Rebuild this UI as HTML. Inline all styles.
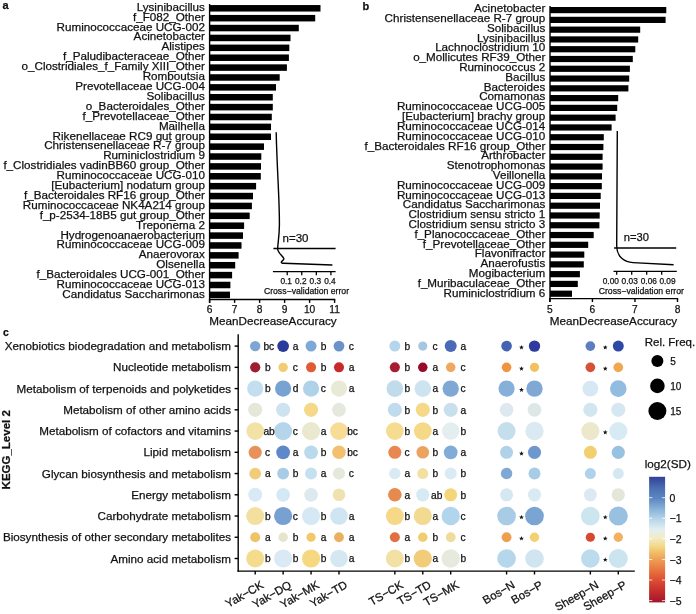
<!DOCTYPE html>
<html><head><meta charset="utf-8"><style>
html,body{margin:0;padding:0;background:#fff;}
body{width:696px;height:614px;overflow:hidden;}
svg{display:block;will-change:transform;}
text{font-family:"Liberation Sans",sans-serif;fill:#111;stroke:#111;stroke-width:0.25px;}
</style></head><body>
<svg width="696" height="614" viewBox="0 0 696 614">
<rect width="696" height="614" fill="#fff"/>
<text x="2.60" y="9.20" font-size="11" text-anchor="start" font-weight="bold" >a</text>
<rect x="209.60" y="5.05" width="110.90" height="6.5" fill="#000"/>
<text x="204.90" y="10.75" font-size="11.67" text-anchor="end" font-weight="normal" >Lysinibacillus</text>
<rect x="209.60" y="14.93" width="105.60" height="6.5" fill="#000"/>
<text x="204.90" y="20.66" font-size="11.67" text-anchor="end" font-weight="normal" >f_F082_Other</text>
<rect x="209.60" y="24.81" width="89.20" height="6.5" fill="#000"/>
<text x="204.90" y="30.56" font-size="11.67" text-anchor="end" font-weight="normal" >Ruminococcaceae UCG-002</text>
<rect x="209.60" y="34.70" width="80.90" height="6.5" fill="#000"/>
<text x="204.90" y="40.46" font-size="11.67" text-anchor="end" font-weight="normal" >Acinetobacter</text>
<rect x="209.60" y="44.58" width="79.70" height="6.5" fill="#000"/>
<text x="204.90" y="50.37" font-size="11.67" text-anchor="end" font-weight="normal" >Alistipes</text>
<rect x="209.60" y="54.46" width="79.30" height="6.5" fill="#000"/>
<text x="204.90" y="60.27" font-size="11.67" text-anchor="end" font-weight="normal" >f_Paludibacteraceae_Other</text>
<rect x="209.60" y="64.34" width="77.30" height="6.5" fill="#000"/>
<text x="204.90" y="70.18" font-size="11.67" text-anchor="end" font-weight="normal" >o_Clostridiales_f_Family XIII_Other</text>
<rect x="209.60" y="74.22" width="70.10" height="6.5" fill="#000"/>
<text x="204.90" y="80.08" font-size="11.67" text-anchor="end" font-weight="normal" >Romboutsia</text>
<rect x="209.60" y="84.11" width="66.40" height="6.5" fill="#000"/>
<text x="204.90" y="89.99" font-size="11.67" text-anchor="end" font-weight="normal" >Prevotellaceae UCG-004</text>
<rect x="209.60" y="93.99" width="63.20" height="6.5" fill="#000"/>
<text x="204.90" y="99.89" font-size="11.67" text-anchor="end" font-weight="normal" >Solibacillus</text>
<rect x="209.60" y="103.87" width="63.20" height="6.5" fill="#000"/>
<text x="204.90" y="109.80" font-size="11.67" text-anchor="end" font-weight="normal" >o_Bacteroidales_Other</text>
<rect x="209.60" y="113.75" width="62.20" height="6.5" fill="#000"/>
<text x="204.90" y="119.70" font-size="11.67" text-anchor="end" font-weight="normal" >f_Prevotellaceae_Other</text>
<rect x="209.60" y="123.63" width="61.40" height="6.5" fill="#000"/>
<text x="204.90" y="129.61" font-size="11.67" text-anchor="end" font-weight="normal" >Mailhella</text>
<rect x="209.60" y="133.52" width="61.40" height="6.5" fill="#000"/>
<text x="204.90" y="139.51" font-size="11.67" text-anchor="end" font-weight="normal" >Rikenellaceae RC9 gut group</text>
<rect x="209.60" y="143.40" width="54.40" height="6.5" fill="#000"/>
<text x="204.90" y="149.42" font-size="11.67" text-anchor="end" font-weight="normal" >Christensenellaceae R-7 group</text>
<rect x="209.60" y="153.28" width="51.70" height="6.5" fill="#000"/>
<text x="204.90" y="159.32" font-size="11.67" text-anchor="end" font-weight="normal" >Ruminiclostridium 9</text>
<rect x="209.60" y="163.16" width="51.40" height="6.5" fill="#000"/>
<text x="204.90" y="169.23" font-size="11.67" text-anchor="end" font-weight="normal" >f_Clostridiales vadinBB60 group_Other</text>
<rect x="209.60" y="173.04" width="51.20" height="6.5" fill="#000"/>
<text x="204.90" y="179.13" font-size="11.67" text-anchor="end" font-weight="normal" >Ruminococcaceae UCG-010</text>
<rect x="209.60" y="182.93" width="46.50" height="6.5" fill="#000"/>
<text x="204.90" y="189.04" font-size="11.67" text-anchor="end" font-weight="normal" >[Eubacterium] nodatum group</text>
<rect x="209.60" y="192.81" width="43.40" height="6.5" fill="#000"/>
<text x="204.90" y="198.94" font-size="11.67" text-anchor="end" font-weight="normal" >f_Bacteroidales RF16 group_Other</text>
<rect x="209.60" y="202.69" width="42.30" height="6.5" fill="#000"/>
<text x="204.90" y="208.85" font-size="11.67" text-anchor="end" font-weight="normal" >Ruminococcaceae NK4A214 group</text>
<rect x="209.60" y="212.57" width="40.10" height="6.5" fill="#000"/>
<text x="204.90" y="218.75" font-size="11.67" text-anchor="end" font-weight="normal" >f_p-2534-18B5 gut group_Other</text>
<rect x="209.60" y="222.45" width="34.50" height="6.5" fill="#000"/>
<text x="204.90" y="228.66" font-size="11.67" text-anchor="end" font-weight="normal" >Treponema 2</text>
<rect x="209.60" y="232.34" width="33.40" height="6.5" fill="#000"/>
<text x="204.90" y="238.56" font-size="11.67" text-anchor="end" font-weight="normal" >Hydrogenoanaerobacterium</text>
<rect x="209.60" y="242.22" width="31.90" height="6.5" fill="#000"/>
<text x="204.90" y="248.47" font-size="11.67" text-anchor="end" font-weight="normal" >Ruminococcaceae UCG-009</text>
<rect x="209.60" y="252.10" width="29.00" height="6.5" fill="#000"/>
<text x="204.90" y="258.38" font-size="11.67" text-anchor="end" font-weight="normal" >Anaerovorax</text>
<rect x="209.60" y="261.98" width="25.60" height="6.5" fill="#000"/>
<text x="204.90" y="268.28" font-size="11.67" text-anchor="end" font-weight="normal" >Olsenella</text>
<rect x="209.60" y="271.86" width="22.50" height="6.5" fill="#000"/>
<text x="204.90" y="278.19" font-size="11.67" text-anchor="end" font-weight="normal" >f_Bacteroidales UCG-001_Other</text>
<rect x="209.60" y="281.75" width="20.80" height="6.5" fill="#000"/>
<text x="204.90" y="288.09" font-size="11.67" text-anchor="end" font-weight="normal" >Ruminococcaceae UCG-013</text>
<rect x="209.60" y="291.63" width="20.40" height="6.5" fill="#000"/>
<text x="204.90" y="298.00" font-size="11.67" text-anchor="end" font-weight="normal" >Candidatus Saccharimonas</text>
<line x1="209.60" y1="3.90" x2="209.60" y2="302.90" stroke="#000" stroke-width="1.4"/>
<line x1="208.90" y1="299.50" x2="335.30" y2="299.50" stroke="#000" stroke-width="1.4"/>
<line x1="209.60" y1="299.50" x2="209.60" y2="302.90" stroke="#000" stroke-width="1.4"/>
<text x="209.60" y="312.60" font-size="10.2" text-anchor="middle" font-weight="normal" >6</text>
<line x1="234.60" y1="299.50" x2="234.60" y2="302.90" stroke="#000" stroke-width="1.4"/>
<text x="234.60" y="312.60" font-size="10.2" text-anchor="middle" font-weight="normal" >7</text>
<line x1="259.60" y1="299.50" x2="259.60" y2="302.90" stroke="#000" stroke-width="1.4"/>
<text x="259.60" y="312.60" font-size="10.2" text-anchor="middle" font-weight="normal" >8</text>
<line x1="284.60" y1="299.50" x2="284.60" y2="302.90" stroke="#000" stroke-width="1.4"/>
<text x="284.60" y="312.60" font-size="10.2" text-anchor="middle" font-weight="normal" >9</text>
<line x1="309.60" y1="299.50" x2="309.60" y2="302.90" stroke="#000" stroke-width="1.4"/>
<text x="309.60" y="312.60" font-size="10.2" text-anchor="middle" font-weight="normal" >10</text>
<line x1="334.60" y1="299.50" x2="334.60" y2="302.90" stroke="#000" stroke-width="1.4"/>
<text x="334.60" y="312.60" font-size="10.2" text-anchor="middle" font-weight="normal" >11</text>
<text x="273.00" y="325.40" font-size="11.7" text-anchor="middle" font-weight="normal" >MeanDecreaseAccuracy</text>
<text x="362.60" y="10.00" font-size="11" text-anchor="start" font-weight="bold" >b</text>
<rect x="550.00" y="7.00" width="116.30" height="6.2" fill="#000"/>
<text x="545.30" y="12.10" font-size="11.67" text-anchor="end" font-weight="normal" >Acinetobacter</text>
<rect x="550.00" y="16.78" width="115.60" height="6.2" fill="#000"/>
<text x="545.30" y="21.91" font-size="11.67" text-anchor="end" font-weight="normal" >Christensenellaceae R-7 group</text>
<rect x="550.00" y="26.56" width="90.20" height="6.2" fill="#000"/>
<text x="545.30" y="31.73" font-size="11.67" text-anchor="end" font-weight="normal" >Solibacillus</text>
<rect x="550.00" y="36.34" width="88.20" height="6.2" fill="#000"/>
<text x="545.30" y="41.55" font-size="11.67" text-anchor="end" font-weight="normal" >Lysinibacillus</text>
<rect x="550.00" y="46.12" width="85.30" height="6.2" fill="#000"/>
<text x="545.30" y="51.36" font-size="11.67" text-anchor="end" font-weight="normal" >Lachnoclostridium 10</text>
<rect x="550.00" y="55.90" width="82.80" height="6.2" fill="#000"/>
<text x="545.30" y="61.17" font-size="11.67" text-anchor="end" font-weight="normal" >o_Mollicutes RF39_Other</text>
<rect x="550.00" y="65.68" width="79.90" height="6.2" fill="#000"/>
<text x="545.30" y="70.99" font-size="11.67" text-anchor="end" font-weight="normal" >Ruminococcus 2</text>
<rect x="550.00" y="75.46" width="79.20" height="6.2" fill="#000"/>
<text x="545.30" y="80.80" font-size="11.67" text-anchor="end" font-weight="normal" >Bacillus</text>
<rect x="550.00" y="85.24" width="78.40" height="6.2" fill="#000"/>
<text x="545.30" y="90.62" font-size="11.67" text-anchor="end" font-weight="normal" >Bacteroides</text>
<rect x="550.00" y="95.02" width="68.20" height="6.2" fill="#000"/>
<text x="545.30" y="100.43" font-size="11.67" text-anchor="end" font-weight="normal" >Comamonas</text>
<rect x="550.00" y="104.80" width="67.20" height="6.2" fill="#000"/>
<text x="545.30" y="110.25" font-size="11.67" text-anchor="end" font-weight="normal" >Ruminococcaceae UCG-005</text>
<rect x="550.00" y="114.58" width="65.60" height="6.2" fill="#000"/>
<text x="545.30" y="120.06" font-size="11.67" text-anchor="end" font-weight="normal" >[Eubacterium] brachy group</text>
<rect x="550.00" y="124.36" width="61.60" height="6.2" fill="#000"/>
<text x="545.30" y="129.88" font-size="11.67" text-anchor="end" font-weight="normal" >Ruminococcaceae UCG-014</text>
<rect x="550.00" y="134.14" width="53.80" height="6.2" fill="#000"/>
<text x="545.30" y="139.69" font-size="11.67" text-anchor="end" font-weight="normal" >Ruminococcaceae UCG-010</text>
<rect x="550.00" y="143.92" width="53.40" height="6.2" fill="#000"/>
<text x="545.30" y="149.51" font-size="11.67" text-anchor="end" font-weight="normal" >f_Bacteroidales RF16 group_Other</text>
<rect x="550.00" y="153.70" width="52.60" height="6.2" fill="#000"/>
<text x="545.30" y="159.32" font-size="11.67" text-anchor="end" font-weight="normal" >Arthrobacter</text>
<rect x="550.00" y="163.48" width="52.60" height="6.2" fill="#000"/>
<text x="545.30" y="169.14" font-size="11.67" text-anchor="end" font-weight="normal" >Stenotrophomonas</text>
<rect x="550.00" y="173.26" width="52.00" height="6.2" fill="#000"/>
<text x="545.30" y="178.95" font-size="11.67" text-anchor="end" font-weight="normal" >Veillonella</text>
<rect x="550.00" y="183.04" width="51.80" height="6.2" fill="#000"/>
<text x="545.30" y="188.77" font-size="11.67" text-anchor="end" font-weight="normal" >Ruminococcaceae UCG-009</text>
<rect x="550.00" y="192.82" width="50.70" height="6.2" fill="#000"/>
<text x="545.30" y="198.58" font-size="11.67" text-anchor="end" font-weight="normal" >Ruminococcaceae UCG-013</text>
<rect x="550.00" y="202.60" width="50.00" height="6.2" fill="#000"/>
<text x="545.30" y="208.40" font-size="11.67" text-anchor="end" font-weight="normal" >Candidatus Saccharimonas</text>
<rect x="550.00" y="212.38" width="49.70" height="6.2" fill="#000"/>
<text x="545.30" y="218.21" font-size="11.67" text-anchor="end" font-weight="normal" >Clostridium sensu stricto 1</text>
<rect x="550.00" y="222.16" width="49.40" height="6.2" fill="#000"/>
<text x="545.30" y="228.03" font-size="11.67" text-anchor="end" font-weight="normal" >Clostridium sensu stricto 3</text>
<rect x="550.00" y="231.94" width="43.70" height="6.2" fill="#000"/>
<text x="545.30" y="237.84" font-size="11.67" text-anchor="end" font-weight="normal" >f_Planococcaceae_Other</text>
<rect x="550.00" y="241.72" width="38.20" height="6.2" fill="#000"/>
<text x="545.30" y="247.66" font-size="11.67" text-anchor="end" font-weight="normal" >f_Prevotellaceae_Other</text>
<rect x="550.00" y="251.50" width="34.30" height="6.2" fill="#000"/>
<text x="545.30" y="257.48" font-size="11.67" text-anchor="end" font-weight="normal" >Flavonifractor</text>
<rect x="550.00" y="261.28" width="33.80" height="6.2" fill="#000"/>
<text x="545.30" y="267.29" font-size="11.67" text-anchor="end" font-weight="normal" >Anaerofustis</text>
<rect x="550.00" y="271.06" width="29.90" height="6.2" fill="#000"/>
<text x="545.30" y="277.11" font-size="11.67" text-anchor="end" font-weight="normal" >Mogibacterium</text>
<rect x="550.00" y="280.84" width="27.80" height="6.2" fill="#000"/>
<text x="545.30" y="286.92" font-size="11.67" text-anchor="end" font-weight="normal" >f_Muribaculaceae_Other</text>
<rect x="550.00" y="290.62" width="22.00" height="6.2" fill="#000"/>
<text x="545.30" y="296.74" font-size="11.67" text-anchor="end" font-weight="normal" >Ruminiclostridium 6</text>
<line x1="550.00" y1="5.90" x2="550.00" y2="302.00" stroke="#000" stroke-width="1.4"/>
<line x1="549.30" y1="298.60" x2="678.19" y2="298.60" stroke="#000" stroke-width="1.4"/>
<line x1="549.90" y1="298.60" x2="549.90" y2="302.00" stroke="#000" stroke-width="1.4"/>
<text x="549.90" y="312.60" font-size="10.2" text-anchor="middle" font-weight="normal" >5</text>
<line x1="592.43" y1="298.60" x2="592.43" y2="302.00" stroke="#000" stroke-width="1.4"/>
<text x="592.43" y="312.60" font-size="10.2" text-anchor="middle" font-weight="normal" >6</text>
<line x1="634.96" y1="298.60" x2="634.96" y2="302.00" stroke="#000" stroke-width="1.4"/>
<text x="634.96" y="312.60" font-size="10.2" text-anchor="middle" font-weight="normal" >7</text>
<line x1="677.49" y1="298.60" x2="677.49" y2="302.00" stroke="#000" stroke-width="1.4"/>
<text x="677.49" y="312.60" font-size="10.2" text-anchor="middle" font-weight="normal" >8</text>
<text x="613.50" y="325.40" font-size="11.7" text-anchor="middle" font-weight="normal" >MeanDecreaseAccuracy</text>
<path d="M276.2,132.3 C277,170 279.6,200 279.4,225 C279.3,238 277.6,244 277.7,249 C277.9,253 282.3,255.5 283.7,258.2 C284.7,260.2 281.4,260.6 281.3,262.2 C281.3,263.2 282,263.3 283.5,263.3 L332.4,265.0" fill="none" stroke="#000" stroke-width="1.4"/>
<line x1="273.40" y1="248.50" x2="335.60" y2="248.50" stroke="#000" stroke-width="1.3"/>
<text x="282.60" y="241.60" font-size="11.5" text-anchor="start" font-weight="normal" >n=30</text>
<line x1="272.90" y1="271.60" x2="335.60" y2="271.60" stroke="#000" stroke-width="1.3"/>
<line x1="287.20" y1="271.60" x2="287.20" y2="275.30" stroke="#000" stroke-width="1.3"/>
<text x="286.20" y="284.20" font-size="8.3" text-anchor="middle" font-weight="normal" >0.1</text>
<line x1="301.77" y1="271.60" x2="301.77" y2="275.30" stroke="#000" stroke-width="1.3"/>
<text x="300.77" y="284.20" font-size="8.3" text-anchor="middle" font-weight="normal" >0.2</text>
<line x1="316.34" y1="271.60" x2="316.34" y2="275.30" stroke="#000" stroke-width="1.3"/>
<text x="315.34" y="284.20" font-size="8.3" text-anchor="middle" font-weight="normal" >0.3</text>
<line x1="330.91" y1="271.60" x2="330.91" y2="275.30" stroke="#000" stroke-width="1.3"/>
<text x="329.91" y="284.20" font-size="8.3" text-anchor="middle" font-weight="normal" >0.4</text>
<text x="306.50" y="294.00" font-size="8.7" text-anchor="middle" font-weight="normal" >Cross−validation error</text>
<path d="M617.3,131 L616.7,246 C616.8,252 619,256 622,258.5 C625,261 629,262.3 633,262.6 L673.6,264.8" fill="none" stroke="#000" stroke-width="1.4"/>
<line x1="614.10" y1="248.00" x2="676.20" y2="248.00" stroke="#000" stroke-width="1.3"/>
<text x="623.80" y="241.20" font-size="11.2" text-anchor="start" font-weight="normal" >n=30</text>
<line x1="613.50" y1="271.40" x2="676.80" y2="271.40" stroke="#000" stroke-width="1.3"/>
<line x1="616.70" y1="271.40" x2="616.70" y2="274.80" stroke="#000" stroke-width="1.3"/>
<text x="610.80" y="284.40" font-size="8.3" text-anchor="middle" font-weight="normal" >0.00</text>
<line x1="631.70" y1="271.40" x2="631.70" y2="274.80" stroke="#000" stroke-width="1.3"/>
<text x="629.70" y="284.40" font-size="8.3" text-anchor="middle" font-weight="normal" >0.03</text>
<line x1="646.70" y1="271.40" x2="646.70" y2="274.80" stroke="#000" stroke-width="1.3"/>
<text x="648.80" y="284.40" font-size="8.3" text-anchor="middle" font-weight="normal" >0.06</text>
<line x1="661.70" y1="271.40" x2="661.70" y2="274.80" stroke="#000" stroke-width="1.3"/>
<text x="667.50" y="284.40" font-size="8.3" text-anchor="middle" font-weight="normal" >0.09</text>
<text x="641.30" y="293.50" font-size="8.7" text-anchor="middle" font-weight="normal" >Cross−validation error</text>
<text x="2.90" y="336.10" font-size="10.4" text-anchor="start" font-weight="bold" >c</text>
<line x1="238.20" y1="334.20" x2="238.20" y2="571.80" stroke="#000" stroke-width="1.4"/>
<line x1="237.50" y1="571.10" x2="634.80" y2="571.10" stroke="#000" stroke-width="1.4"/>
<line x1="234.60" y1="346.10" x2="238.20" y2="346.10" stroke="#000" stroke-width="1.4"/>
<text x="231.00" y="350.10" font-size="11.67" text-anchor="end" font-weight="normal" >Xenobiotics biodegradation and metabolism</text>
<line x1="234.60" y1="367.34" x2="238.20" y2="367.34" stroke="#000" stroke-width="1.4"/>
<text x="231.00" y="371.34" font-size="11.67" text-anchor="end" font-weight="normal" >Nucleotide metabolism</text>
<line x1="234.60" y1="388.58" x2="238.20" y2="388.58" stroke="#000" stroke-width="1.4"/>
<text x="231.00" y="392.58" font-size="11.67" text-anchor="end" font-weight="normal" >Metabolism of terpenoids and polyketides</text>
<line x1="234.60" y1="409.82" x2="238.20" y2="409.82" stroke="#000" stroke-width="1.4"/>
<text x="231.00" y="413.82" font-size="11.67" text-anchor="end" font-weight="normal" >Metabolism of other amino acids</text>
<line x1="234.60" y1="431.06" x2="238.20" y2="431.06" stroke="#000" stroke-width="1.4"/>
<text x="231.00" y="435.06" font-size="11.67" text-anchor="end" font-weight="normal" >Metabolism of cofactors and vitamins</text>
<line x1="234.60" y1="452.30" x2="238.20" y2="452.30" stroke="#000" stroke-width="1.4"/>
<text x="231.00" y="456.30" font-size="11.67" text-anchor="end" font-weight="normal" >Lipid metabolism</text>
<line x1="234.60" y1="473.54" x2="238.20" y2="473.54" stroke="#000" stroke-width="1.4"/>
<text x="231.00" y="477.54" font-size="11.67" text-anchor="end" font-weight="normal" >Glycan biosynthesis and metabolism</text>
<line x1="234.60" y1="494.78" x2="238.20" y2="494.78" stroke="#000" stroke-width="1.4"/>
<text x="231.00" y="498.78" font-size="11.67" text-anchor="end" font-weight="normal" >Energy metabolism</text>
<line x1="234.60" y1="516.02" x2="238.20" y2="516.02" stroke="#000" stroke-width="1.4"/>
<text x="231.00" y="520.02" font-size="11.67" text-anchor="end" font-weight="normal" >Carbohydrate metabolism</text>
<line x1="234.60" y1="537.26" x2="238.20" y2="537.26" stroke="#000" stroke-width="1.4"/>
<text x="231.00" y="541.26" font-size="11.67" text-anchor="end" font-weight="normal" >Biosynthesis of other secondary metabolites</text>
<line x1="234.60" y1="558.50" x2="238.20" y2="558.50" stroke="#000" stroke-width="1.4"/>
<text x="231.00" y="562.50" font-size="11.67" text-anchor="end" font-weight="normal" >Amino acid metabolism</text>
<line x1="255.20" y1="571.10" x2="255.20" y2="574.50" stroke="#000" stroke-width="1.4"/>
<text font-size="11.5" text-anchor="end" transform="translate(264.40,587.20) rotate(-30)">Yak−CK</text>
<line x1="283.13" y1="571.10" x2="283.13" y2="574.50" stroke="#000" stroke-width="1.4"/>
<text font-size="11.5" text-anchor="end" transform="translate(292.33,587.20) rotate(-30)">Yak−DQ</text>
<line x1="311.06" y1="571.10" x2="311.06" y2="574.50" stroke="#000" stroke-width="1.4"/>
<text font-size="11.5" text-anchor="end" transform="translate(320.26,587.20) rotate(-30)">Yak−MK</text>
<line x1="338.99" y1="571.10" x2="338.99" y2="574.50" stroke="#000" stroke-width="1.4"/>
<text font-size="11.5" text-anchor="end" transform="translate(348.19,587.20) rotate(-30)">Yak−TD</text>
<line x1="394.85" y1="571.10" x2="394.85" y2="574.50" stroke="#000" stroke-width="1.4"/>
<text font-size="11.5" text-anchor="end" transform="translate(404.05,587.20) rotate(-30)">TS−CK</text>
<line x1="422.78" y1="571.10" x2="422.78" y2="574.50" stroke="#000" stroke-width="1.4"/>
<text font-size="11.5" text-anchor="end" transform="translate(431.98,587.20) rotate(-30)">TS−TD</text>
<line x1="450.71" y1="571.10" x2="450.71" y2="574.50" stroke="#000" stroke-width="1.4"/>
<text font-size="11.5" text-anchor="end" transform="translate(459.91,587.20) rotate(-30)">TS−MK</text>
<line x1="506.57" y1="571.10" x2="506.57" y2="574.50" stroke="#000" stroke-width="1.4"/>
<text font-size="11.5" text-anchor="end" transform="translate(515.77,587.20) rotate(-30)">Bos−N</text>
<line x1="534.50" y1="571.10" x2="534.50" y2="574.50" stroke="#000" stroke-width="1.4"/>
<text font-size="11.5" text-anchor="end" transform="translate(543.70,587.20) rotate(-30)">Bos−P</text>
<line x1="590.36" y1="571.10" x2="590.36" y2="574.50" stroke="#000" stroke-width="1.4"/>
<text font-size="11.5" text-anchor="end" transform="translate(599.56,587.20) rotate(-30)">Sheep−N</text>
<line x1="618.29" y1="571.10" x2="618.29" y2="574.50" stroke="#000" stroke-width="1.4"/>
<text font-size="11.5" text-anchor="end" transform="translate(627.49,587.20) rotate(-30)">Sheep−P</text>
<text x="10.20" y="449.80" font-size="11.5" text-anchor="middle" font-weight="bold" transform="rotate(-90 10.2 449.8)">KEGG_Level 2</text>
<circle cx="255.20" cy="346.10" r="5.20" fill="#7fa5d2"/>
<circle cx="283.13" cy="346.10" r="5.90" fill="#2a3a9a"/>
<circle cx="311.06" cy="346.10" r="5.50" fill="#7ea8d8"/>
<circle cx="338.99" cy="346.10" r="5.40" fill="#6b93ca"/>
<circle cx="394.85" cy="346.10" r="5.50" fill="#b5d5ea"/>
<circle cx="422.78" cy="346.10" r="4.60" fill="#a5c8e0"/>
<circle cx="450.71" cy="346.10" r="6.00" fill="#4a6ab8"/>
<circle cx="506.57" cy="346.10" r="5.30" fill="#4563b0"/>
<circle cx="534.50" cy="346.10" r="5.70" fill="#2e3a9e"/>
<circle cx="590.36" cy="346.10" r="4.85" fill="#5a7ec0"/>
<circle cx="618.29" cy="346.10" r="5.50" fill="#3048a5"/>
<text x="263.40" y="349.90" font-size="10.2" text-anchor="start" font-weight="normal" >bc</text>
<text x="292.83" y="349.90" font-size="10.2" text-anchor="start" font-weight="normal" >a</text>
<text x="320.76" y="349.90" font-size="10.2" text-anchor="start" font-weight="normal" >b</text>
<text x="348.69" y="349.90" font-size="10.2" text-anchor="start" font-weight="normal" >c</text>
<text x="404.55" y="349.90" font-size="10.2" text-anchor="start" font-weight="normal" >b</text>
<text x="432.48" y="349.90" font-size="10.2" text-anchor="start" font-weight="normal" >c</text>
<text x="460.41" y="349.90" font-size="10.2" text-anchor="start" font-weight="normal" >a</text>
<polygon points="521.47,344.90 522.09,346.55 523.85,346.63 522.47,347.72 522.94,349.42 521.47,348.45 520.00,349.42 520.47,347.72 519.09,346.63 520.85,346.55" fill="#111"/>
<polygon points="605.26,344.90 605.88,346.55 607.64,346.63 606.26,347.72 606.73,349.42 605.26,348.45 603.79,349.42 604.26,347.72 602.88,346.63 604.64,346.55" fill="#111"/>
<circle cx="255.20" cy="367.34" r="5.10" fill="#a01c30"/>
<circle cx="283.13" cy="367.34" r="4.70" fill="#f2cc70"/>
<circle cx="311.06" cy="367.34" r="5.00" fill="#e05a35"/>
<circle cx="338.99" cy="367.34" r="5.00" fill="#c82a2a"/>
<circle cx="394.85" cy="367.34" r="5.00" fill="#a81c30"/>
<circle cx="422.78" cy="367.34" r="4.75" fill="#9a0a28"/>
<circle cx="450.71" cy="367.34" r="4.75" fill="#eea860"/>
<circle cx="506.57" cy="367.34" r="4.80" fill="#ef9440"/>
<circle cx="534.50" cy="367.34" r="4.60" fill="#f2c060"/>
<circle cx="590.36" cy="367.34" r="4.85" fill="#d85035"/>
<circle cx="618.29" cy="367.34" r="4.85" fill="#f0a850"/>
<text x="264.90" y="371.14" font-size="10.2" text-anchor="start" font-weight="normal" >b</text>
<text x="292.83" y="371.14" font-size="10.2" text-anchor="start" font-weight="normal" >c</text>
<text x="320.76" y="371.14" font-size="10.2" text-anchor="start" font-weight="normal" >b</text>
<text x="348.69" y="371.14" font-size="10.2" text-anchor="start" font-weight="normal" >a</text>
<text x="404.55" y="371.14" font-size="10.2" text-anchor="start" font-weight="normal" >b</text>
<text x="432.48" y="371.14" font-size="10.2" text-anchor="start" font-weight="normal" >a</text>
<text x="460.41" y="371.14" font-size="10.2" text-anchor="start" font-weight="normal" >c</text>
<polygon points="521.47,366.14 522.09,367.79 523.85,367.87 522.47,368.96 522.94,370.66 521.47,369.69 520.00,370.66 520.47,368.96 519.09,367.87 520.85,367.79" fill="#111"/>
<polygon points="605.26,366.14 605.88,367.79 607.64,367.87 606.26,368.96 606.73,370.66 605.26,369.69 603.79,370.66 604.26,368.96 602.88,367.87 604.64,367.79" fill="#111"/>
<circle cx="255.20" cy="388.58" r="8.10" fill="#c3def0"/>
<circle cx="283.13" cy="388.58" r="8.10" fill="#78a2d2"/>
<circle cx="311.06" cy="388.58" r="8.10" fill="#aed2e8"/>
<circle cx="338.99" cy="388.58" r="8.10" fill="#e8ead5"/>
<circle cx="394.85" cy="388.58" r="8.40" fill="#c0dbea"/>
<circle cx="422.78" cy="388.58" r="8.30" fill="#cde3f0"/>
<circle cx="450.71" cy="388.58" r="8.20" fill="#80a8d5"/>
<circle cx="506.57" cy="388.58" r="8.10" fill="#86b0da"/>
<circle cx="534.50" cy="388.58" r="8.20" fill="#80a8d5"/>
<circle cx="590.36" cy="388.58" r="7.90" fill="#d5e8f4"/>
<circle cx="618.29" cy="388.58" r="8.30" fill="#92bce0"/>
<text x="264.90" y="392.38" font-size="10.2" text-anchor="start" font-weight="normal" >b</text>
<text x="292.83" y="392.38" font-size="10.2" text-anchor="start" font-weight="normal" >d</text>
<text x="320.76" y="392.38" font-size="10.2" text-anchor="start" font-weight="normal" >c</text>
<text x="348.69" y="392.38" font-size="10.2" text-anchor="start" font-weight="normal" >a</text>
<text x="404.55" y="392.38" font-size="10.2" text-anchor="start" font-weight="normal" >b</text>
<text x="432.48" y="392.38" font-size="10.2" text-anchor="start" font-weight="normal" >a</text>
<text x="460.41" y="392.38" font-size="10.2" text-anchor="start" font-weight="normal" >c</text>
<polygon points="521.47,387.38 522.09,389.03 523.85,389.11 522.47,390.20 522.94,391.90 521.47,390.93 520.00,391.90 520.47,390.20 519.09,389.11 520.85,389.03" fill="#111"/>
<circle cx="255.20" cy="409.82" r="7.10" fill="#e5e8d8"/>
<circle cx="283.13" cy="409.82" r="7.10" fill="#cde3ef"/>
<circle cx="311.06" cy="409.82" r="7.10" fill="#f5d888"/>
<circle cx="338.99" cy="409.82" r="6.95" fill="#e5e8dc"/>
<circle cx="394.85" cy="409.82" r="7.10" fill="#c0dbee"/>
<circle cx="422.78" cy="409.82" r="7.10" fill="#f5d888"/>
<circle cx="450.71" cy="409.82" r="7.10" fill="#c8e0ee"/>
<circle cx="506.57" cy="409.82" r="6.90" fill="#dde9ee"/>
<circle cx="534.50" cy="409.82" r="6.90" fill="#dde8e6"/>
<circle cx="590.36" cy="409.82" r="7.10" fill="#d2e6f0"/>
<circle cx="618.29" cy="409.82" r="7.10" fill="#d5e8f2"/>
<text x="404.55" y="413.62" font-size="10.2" text-anchor="start" font-weight="normal" >b</text>
<text x="432.48" y="413.62" font-size="10.2" text-anchor="start" font-weight="normal" >b</text>
<text x="460.41" y="413.62" font-size="10.2" text-anchor="start" font-weight="normal" >a</text>
<circle cx="255.20" cy="431.06" r="8.85" fill="#f3e2a5"/>
<circle cx="283.13" cy="431.06" r="9.10" fill="#b5d6ea"/>
<circle cx="311.06" cy="431.06" r="9.10" fill="#ebe8d0"/>
<circle cx="338.99" cy="431.06" r="8.85" fill="#f7dc95"/>
<circle cx="394.85" cy="431.06" r="8.85" fill="#f5dc90"/>
<circle cx="422.78" cy="431.06" r="8.90" fill="#f5d888"/>
<circle cx="450.71" cy="431.06" r="8.70" fill="#e5eeef"/>
<circle cx="506.57" cy="431.06" r="9.00" fill="#c5deec"/>
<circle cx="534.50" cy="431.06" r="9.20" fill="#dbeaf2"/>
<circle cx="590.36" cy="431.06" r="9.10" fill="#ece8cc"/>
<circle cx="618.29" cy="431.06" r="9.10" fill="#d8eaf4"/>
<text x="263.40" y="434.86" font-size="10.2" text-anchor="start" font-weight="normal" >ab</text>
<text x="292.83" y="434.86" font-size="10.2" text-anchor="start" font-weight="normal" >c</text>
<text x="320.76" y="434.86" font-size="10.2" text-anchor="start" font-weight="normal" >a</text>
<text x="347.19" y="434.86" font-size="10.2" text-anchor="start" font-weight="normal" >bc</text>
<text x="404.55" y="434.86" font-size="10.2" text-anchor="start" font-weight="normal" >b</text>
<text x="432.48" y="434.86" font-size="10.2" text-anchor="start" font-weight="normal" >a</text>
<text x="460.41" y="434.86" font-size="10.2" text-anchor="start" font-weight="normal" >b</text>
<polygon points="605.26,429.86 605.88,431.51 607.64,431.59 606.26,432.68 606.73,434.38 605.26,433.41 603.79,434.38 604.26,432.68 602.88,431.59 604.64,431.51" fill="#111"/>
<circle cx="255.20" cy="452.30" r="6.60" fill="#e8925a"/>
<circle cx="283.13" cy="452.30" r="6.90" fill="#5f88c8"/>
<circle cx="311.06" cy="452.30" r="6.90" fill="#b9d9ec"/>
<circle cx="338.99" cy="452.30" r="6.80" fill="#f2c070"/>
<circle cx="394.85" cy="452.30" r="6.55" fill="#e88850"/>
<circle cx="422.78" cy="452.30" r="6.30" fill="#eca35e"/>
<circle cx="450.71" cy="452.30" r="6.90" fill="#82acd8"/>
<circle cx="506.57" cy="452.30" r="6.50" fill="#b0d2e8"/>
<circle cx="534.50" cy="452.30" r="6.60" fill="#6e98cc"/>
<circle cx="590.36" cy="452.30" r="6.50" fill="#f2d070"/>
<circle cx="618.29" cy="452.30" r="6.60" fill="#98c2e2"/>
<text x="264.90" y="456.10" font-size="10.2" text-anchor="start" font-weight="normal" >c</text>
<text x="292.83" y="456.10" font-size="10.2" text-anchor="start" font-weight="normal" >a</text>
<text x="320.76" y="456.10" font-size="10.2" text-anchor="start" font-weight="normal" >b</text>
<text x="347.19" y="456.10" font-size="10.2" text-anchor="start" font-weight="normal" >bc</text>
<text x="404.55" y="456.10" font-size="10.2" text-anchor="start" font-weight="normal" >c</text>
<text x="432.48" y="456.10" font-size="10.2" text-anchor="start" font-weight="normal" >b</text>
<text x="460.41" y="456.10" font-size="10.2" text-anchor="start" font-weight="normal" >a</text>
<polygon points="521.47,451.10 522.09,452.75 523.85,452.83 522.47,453.92 522.94,455.62 521.47,454.65 520.00,455.62 520.47,453.92 519.09,452.83 520.85,452.75" fill="#111"/>
<circle cx="255.20" cy="473.54" r="5.85" fill="#f2cc78"/>
<circle cx="283.13" cy="473.54" r="5.90" fill="#a8cce6"/>
<circle cx="311.06" cy="473.54" r="6.00" fill="#c5e0f0"/>
<circle cx="338.99" cy="473.54" r="6.10" fill="#e5e9dc"/>
<circle cx="394.85" cy="473.54" r="5.70" fill="#d9eaf3"/>
<circle cx="422.78" cy="473.54" r="5.50" fill="#f2e0a0"/>
<circle cx="450.71" cy="473.54" r="6.00" fill="#d9ebf5"/>
<circle cx="506.57" cy="473.54" r="5.70" fill="#80a8d5"/>
<circle cx="534.50" cy="473.54" r="6.00" fill="#a8cce5"/>
<circle cx="590.36" cy="473.54" r="5.50" fill="#aed2ea"/>
<circle cx="618.29" cy="473.54" r="5.50" fill="#d5e8f2"/>
<text x="264.90" y="477.34" font-size="10.2" text-anchor="start" font-weight="normal" >a</text>
<text x="292.83" y="477.34" font-size="10.2" text-anchor="start" font-weight="normal" >b</text>
<text x="320.76" y="477.34" font-size="10.2" text-anchor="start" font-weight="normal" >a</text>
<text x="348.69" y="477.34" font-size="10.2" text-anchor="start" font-weight="normal" >c</text>
<text x="404.55" y="477.34" font-size="10.2" text-anchor="start" font-weight="normal" >a</text>
<text x="432.48" y="477.34" font-size="10.2" text-anchor="start" font-weight="normal" >b</text>
<text x="460.41" y="477.34" font-size="10.2" text-anchor="start" font-weight="normal" >b</text>
<circle cx="255.20" cy="494.78" r="7.00" fill="#d8eaf5"/>
<circle cx="283.13" cy="494.78" r="6.90" fill="#d5e8f5"/>
<circle cx="311.06" cy="494.78" r="6.90" fill="#dde9ef"/>
<circle cx="338.99" cy="494.78" r="6.30" fill="#f0e2b0"/>
<circle cx="394.85" cy="494.78" r="6.80" fill="#e68a50"/>
<circle cx="422.78" cy="494.78" r="6.60" fill="#d5eaf3"/>
<circle cx="450.71" cy="494.78" r="6.50" fill="#f5d57a"/>
<circle cx="506.57" cy="494.78" r="6.50" fill="#d5e8f2"/>
<circle cx="534.50" cy="494.78" r="6.60" fill="#d8eaf2"/>
<circle cx="590.36" cy="494.78" r="6.50" fill="#dce9f5"/>
<circle cx="618.29" cy="494.78" r="6.60" fill="#e3e7da"/>
<text x="404.55" y="498.58" font-size="10.2" text-anchor="start" font-weight="normal" >a</text>
<text x="430.98" y="498.58" font-size="10.2" text-anchor="start" font-weight="normal" >ab</text>
<text x="460.41" y="498.58" font-size="10.2" text-anchor="start" font-weight="normal" >b</text>
<circle cx="255.20" cy="516.02" r="9.00" fill="#f3e0a0"/>
<circle cx="283.13" cy="516.02" r="9.10" fill="#78a0d0"/>
<circle cx="311.06" cy="516.02" r="9.10" fill="#d5e8f3"/>
<circle cx="338.99" cy="516.02" r="8.85" fill="#d0e5f2"/>
<circle cx="394.85" cy="516.02" r="9.00" fill="#f5d888"/>
<circle cx="422.78" cy="516.02" r="9.10" fill="#f2da90"/>
<circle cx="450.71" cy="516.02" r="9.20" fill="#b0d5ec"/>
<circle cx="506.57" cy="516.02" r="9.35" fill="#a8cce6"/>
<circle cx="534.50" cy="516.02" r="9.35" fill="#7aa5d2"/>
<circle cx="590.36" cy="516.02" r="9.35" fill="#cde5ef"/>
<circle cx="618.29" cy="516.02" r="9.50" fill="#98c0e0"/>
<text x="264.90" y="519.82" font-size="10.2" text-anchor="start" font-weight="normal" >b</text>
<text x="292.83" y="519.82" font-size="10.2" text-anchor="start" font-weight="normal" >c</text>
<text x="320.76" y="519.82" font-size="10.2" text-anchor="start" font-weight="normal" >b</text>
<text x="348.69" y="519.82" font-size="10.2" text-anchor="start" font-weight="normal" >a</text>
<text x="404.55" y="519.82" font-size="10.2" text-anchor="start" font-weight="normal" >b</text>
<text x="432.48" y="519.82" font-size="10.2" text-anchor="start" font-weight="normal" >a</text>
<text x="460.41" y="519.82" font-size="10.2" text-anchor="start" font-weight="normal" >c</text>
<polygon points="521.47,514.82 522.09,516.47 523.85,516.55 522.47,517.64 522.94,519.34 521.47,518.37 520.00,519.34 520.47,517.64 519.09,516.55 520.85,516.47" fill="#111"/>
<polygon points="605.26,514.82 605.88,516.47 607.64,516.55 606.26,517.64 606.73,519.34 605.26,518.37 603.79,519.34 604.26,517.64 602.88,516.55 604.64,516.47" fill="#111"/>
<circle cx="255.20" cy="537.26" r="5.00" fill="#efc468"/>
<circle cx="283.13" cy="537.26" r="4.70" fill="#e6e4cc"/>
<circle cx="311.06" cy="537.26" r="4.60" fill="#f2c868"/>
<circle cx="338.99" cy="537.26" r="4.90" fill="#eab060"/>
<circle cx="394.85" cy="537.26" r="5.00" fill="#e07040"/>
<circle cx="422.78" cy="537.26" r="4.75" fill="#f2cc70"/>
<circle cx="450.71" cy="537.26" r="4.90" fill="#f0dc98"/>
<circle cx="506.57" cy="537.26" r="4.90" fill="#eda050"/>
<circle cx="534.50" cy="537.26" r="4.70" fill="#f5d070"/>
<circle cx="590.36" cy="537.26" r="4.60" fill="#d84830"/>
<circle cx="618.29" cy="537.26" r="4.70" fill="#f2b060"/>
<text x="264.90" y="541.06" font-size="10.2" text-anchor="start" font-weight="normal" >a</text>
<text x="292.83" y="541.06" font-size="10.2" text-anchor="start" font-weight="normal" >b</text>
<text x="320.76" y="541.06" font-size="10.2" text-anchor="start" font-weight="normal" >a</text>
<text x="348.69" y="541.06" font-size="10.2" text-anchor="start" font-weight="normal" >a</text>
<text x="404.55" y="541.06" font-size="10.2" text-anchor="start" font-weight="normal" >a</text>
<text x="432.48" y="541.06" font-size="10.2" text-anchor="start" font-weight="normal" >b</text>
<text x="460.41" y="541.06" font-size="10.2" text-anchor="start" font-weight="normal" >c</text>
<polygon points="521.47,536.06 522.09,537.71 523.85,537.79 522.47,538.88 522.94,540.58 521.47,539.61 520.00,540.58 520.47,538.88 519.09,537.79 520.85,537.71" fill="#111"/>
<polygon points="605.26,536.06 605.88,537.71 607.64,537.79 606.26,538.88 606.73,540.58 605.26,539.61 603.79,540.58 604.26,538.88 602.88,537.79 604.64,537.71" fill="#111"/>
<circle cx="255.20" cy="558.50" r="9.00" fill="#f5dc8c"/>
<circle cx="283.13" cy="558.50" r="9.10" fill="#dae9f3"/>
<circle cx="311.06" cy="558.50" r="9.10" fill="#f5d880"/>
<circle cx="338.99" cy="558.50" r="8.85" fill="#d5e8f2"/>
<circle cx="394.85" cy="558.50" r="9.00" fill="#f2e0a5"/>
<circle cx="422.78" cy="558.50" r="9.10" fill="#f2cc78"/>
<circle cx="450.71" cy="558.50" r="9.20" fill="#e5eadc"/>
<circle cx="506.57" cy="558.50" r="9.35" fill="#b5d6eb"/>
<circle cx="534.50" cy="558.50" r="9.35" fill="#d0e5f0"/>
<circle cx="590.36" cy="558.50" r="9.35" fill="#bcdcee"/>
<circle cx="618.29" cy="558.50" r="9.50" fill="#cce4f0"/>
<text x="264.90" y="562.30" font-size="10.2" text-anchor="start" font-weight="normal" >b</text>
<text x="292.83" y="562.30" font-size="10.2" text-anchor="start" font-weight="normal" >b</text>
<text x="320.76" y="562.30" font-size="10.2" text-anchor="start" font-weight="normal" >b</text>
<text x="348.69" y="562.30" font-size="10.2" text-anchor="start" font-weight="normal" >a</text>
<text x="404.55" y="562.30" font-size="10.2" text-anchor="start" font-weight="normal" >b</text>
<text x="432.48" y="562.30" font-size="10.2" text-anchor="start" font-weight="normal" >a</text>
<text x="460.41" y="562.30" font-size="10.2" text-anchor="start" font-weight="normal" >b</text>
<polygon points="605.26,557.30 605.88,558.95 607.64,559.03 606.26,560.12 606.73,561.82 605.26,560.85 603.79,561.82 604.26,560.12 602.88,559.03 604.64,558.95" fill="#111"/>
<text x="644.70" y="346.30" font-size="11.5" text-anchor="start" font-weight="normal" >Rel. Freq.</text>
<circle cx="657.4" cy="361.0" r="6.0" fill="#000"/>
<text x="670.20" y="364.60" font-size="10.0" text-anchor="start" font-weight="normal" >5</text>
<circle cx="657.4" cy="385.9" r="7.3" fill="#000"/>
<text x="670.20" y="389.50" font-size="10.0" text-anchor="start" font-weight="normal" >10</text>
<circle cx="657.4" cy="411.0" r="9.0" fill="#000"/>
<text x="670.20" y="414.60" font-size="10.0" text-anchor="start" font-weight="normal" >15</text>
<text x="644.70" y="467.70" font-size="11.7" text-anchor="start" font-weight="normal" >log2(SD)</text>
<defs><linearGradient id="cb" x1="0" y1="0" x2="0" y2="1"><stop offset="0.000" stop-color="#34409a"/><stop offset="0.093" stop-color="#4a70b2"/><stop offset="0.174" stop-color="#5c88c2"/><stop offset="0.256" stop-color="#88b2d8"/><stop offset="0.337" stop-color="#b6d5ea"/><stop offset="0.419" stop-color="#e3eef2"/><stop offset="0.484" stop-color="#f2ecc8"/><stop offset="0.549" stop-color="#f4d98a"/><stop offset="0.614" stop-color="#f0b862"/><stop offset="0.679" stop-color="#ec9450"/><stop offset="0.761" stop-color="#e66c3c"/><stop offset="0.842" stop-color="#d84630"/><stop offset="0.923" stop-color="#c02a2e"/><stop offset="1.000" stop-color="#a0162c"/></linearGradient></defs>
<rect x="649.1" y="476.8" width="16.0" height="125.6" fill="url(#cb)"/>
<line x1="649.10" y1="497.70" x2="652.30" y2="497.70" stroke="#fff" stroke-width="0.8"/>
<line x1="661.90" y1="497.70" x2="665.10" y2="497.70" stroke="#fff" stroke-width="0.8"/>
<text x="669.50" y="501.80" font-size="10.5" text-anchor="start" font-weight="normal" >0</text>
<line x1="649.10" y1="518.28" x2="652.30" y2="518.28" stroke="#fff" stroke-width="0.8"/>
<line x1="661.90" y1="518.28" x2="665.10" y2="518.28" stroke="#fff" stroke-width="0.8"/>
<text x="669.50" y="522.38" font-size="10.5" text-anchor="start" font-weight="normal" >−1</text>
<line x1="649.10" y1="538.86" x2="652.30" y2="538.86" stroke="#fff" stroke-width="0.8"/>
<line x1="661.90" y1="538.86" x2="665.10" y2="538.86" stroke="#fff" stroke-width="0.8"/>
<text x="669.50" y="542.96" font-size="10.5" text-anchor="start" font-weight="normal" >−2</text>
<line x1="649.10" y1="559.44" x2="652.30" y2="559.44" stroke="#fff" stroke-width="0.8"/>
<line x1="661.90" y1="559.44" x2="665.10" y2="559.44" stroke="#fff" stroke-width="0.8"/>
<text x="669.50" y="563.54" font-size="10.5" text-anchor="start" font-weight="normal" >−3</text>
<line x1="649.10" y1="580.02" x2="652.30" y2="580.02" stroke="#fff" stroke-width="0.8"/>
<line x1="661.90" y1="580.02" x2="665.10" y2="580.02" stroke="#fff" stroke-width="0.8"/>
<text x="669.50" y="584.12" font-size="10.5" text-anchor="start" font-weight="normal" >−4</text>
<line x1="649.10" y1="600.60" x2="652.30" y2="600.60" stroke="#fff" stroke-width="0.8"/>
<line x1="661.90" y1="600.60" x2="665.10" y2="600.60" stroke="#fff" stroke-width="0.8"/>
<text x="669.50" y="604.70" font-size="10.5" text-anchor="start" font-weight="normal" >−5</text>
</svg>
</body></html>
